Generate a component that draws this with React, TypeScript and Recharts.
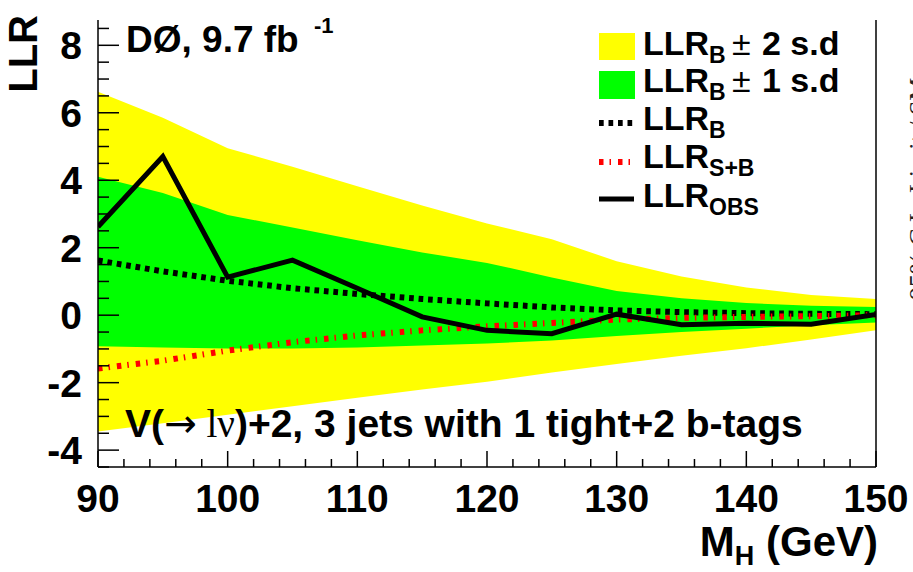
import React from "react"
import { ComposedChart, Area, Line, XAxis, YAxis } from "recharts"

// Higgs mass points and the LLR curves
const massPoints = [90, 95, 100, 105, 110, 115, 120, 125, 130, 135, 140, 145, 150]
const llrObs = [2.62, 4.7, 1.13, 1.63, 0.8, -0.05, -0.45, -0.55, 0.03, -0.28, -0.24, -0.27, 0.02]
const llrB = [1.62, 1.3, 1.02, 0.8, 0.63, 0.48, 0.35, 0.23, 0.14, 0.09, 0.06, 0.04, 0.03]
const llrSB = [-1.58, -1.35, -1.05, -0.8, -0.6, -0.45, -0.33, -0.23, -0.13, -0.08, -0.05, -0.03, 0.0]
const plus2sd = [6.62, 5.85, 4.95, 4.4, 3.82, 3.25, 2.72, 2.25, 1.6, 1.15, 0.82, 0.6, 0.48]
const plus1sd = [4.1, 3.62, 2.97, 2.6, 2.22, 1.86, 1.55, 1.12, 0.72, 0.5, 0.36, 0.28, 0.24]
const minus1sd = [-0.92, -0.96, -0.99, -0.99, -0.96, -0.9, -0.84, -0.75, -0.62, -0.5, -0.4, -0.3, -0.22]
const minus2sd = [-3.45, -3.2, -2.95, -2.7, -2.45, -2.2, -1.97, -1.7, -1.45, -1.2, -0.98, -0.72, -0.45]

const xMajorTicks = [90, 100, 110, 120, 130, 140, 150]
const yMajorTicks = [-4, -2, 0, 2, 4, 6, 8]

const rows = massPoints.map((m, i) => ({
  mh: m,
  obs: llrObs[i],
  b: llrB[i],
  sb: llrSB[i],
  band2: [minus2sd[i], plus2sd[i]],
  band1: [minus1sd[i], plus1sd[i]],
}))

// minor ticks: every 2 GeV on x, every 0.5 on y
const xTicks: number[] = []
for (let v = 90; v <= 150; v += 2) xTicks.push(v)
const yTicks: number[] = []
for (let v = -4.5; v <= 8.5; v += 0.5) yTicks.push(v)

const W = 913
const H = 572
const LEFT = 98
const RIGHT = 876
const TOP = 20
const BOTTOM = 467
const FONT = "'Liberation Sans', Arial, Helvetica, sans-serif"
const SERIF = "'Liberation Serif', 'Times New Roman', serif"

const DASH_B = "4.7 4.8"
const DASH_SB = "4.5 6 1.5 7"

function XTick(props: any) {
  const { x, payload } = props
  const v = payload.value
  const major = xMajorTicks.includes(v)
  return (
    <g>
      <line x1={x} x2={x} y1={BOTTOM} y2={BOTTOM - (major ? 16 : 8)} stroke="#000" strokeWidth={1.5} />
      {major && (
        <text x={x} y={BOTTOM + 45} textAnchor="middle" fontFamily={FONT} fontWeight="bold" fontSize={39} fill="#000">
          {v}
        </text>
      )}
    </g>
  )
}

function YTick(props: any) {
  const { y, payload } = props
  const v = payload.value
  const major = yMajorTicks.includes(v)
  return (
    <g>
      <line x1={LEFT} x2={LEFT + (major ? 21 : 11)} y1={y} y2={y} stroke="#000" strokeWidth={1.5} />
      {major && (
        <text x={LEFT - 16} y={y + 14} textAnchor="end" fontFamily={FONT} fontWeight="bold" fontSize={39} fill="#000">
          {v}
        </text>
      )}
    </g>
  )
}

function LegendLabel({ sub }: { sub: string }) {
  return (
    <>
      LLR
      <tspan dy={8} fontSize={23}>{sub}</tspan>
    </>
  )
}

function Overlay() {
  const tx = 643
  return (
    <svg width={W} height={H} style={{ position: "absolute", left: 0, top: 0, pointerEvents: "none" }}>
      {/* right frame edge */}
      <line x1={RIGHT} x2={RIGHT} y1={TOP} y2={BOTTOM} stroke="#000" strokeWidth={1.5} />

      {/* axis titles */}
      <text transform={`translate(37,15) rotate(-90)`} textAnchor="end" fontFamily={FONT} fontWeight="bold" fontSize={40} fill="#000">
        LLR
      </text>
      <text x={878} y={556} textAnchor="end" fontFamily={FONT} fontWeight="bold" fontSize={42} fill="#000">
        M<tspan dy={9} fontSize={27}>H</tspan>
        <tspan dy={-9}> (GeV)</tspan>
      </text>

      {/* experiment label */}
      <text x={126} y={52} fontFamily={FONT} fontWeight="bold" fontSize={37} fill="#000">
        DØ, 9.7 fb
        <tspan x={314} y={33} fontSize={22}>-1</tspan>
      </text>

      {/* channel label */}
      <text x={125} y={437} fontFamily={FONT} fontWeight="bold" fontSize={39} fill="#000">
        V(
        <tspan fontFamily="'DejaVu Sans', sans-serif" fontWeight="normal">→</tspan>
        <tspan fontFamily={SERIF} fontWeight="normal"> lν</tspan>
        )+2, 3 jets with 1 tight+2 b-tags
      </text>

      {/* legend */}
      <rect x={599} y={33} width={36} height={27} fill="#ffff00" />
      <rect x={599} y={71} width={36} height={28} fill="#00ff00" />
      <line x1={599} x2={634} y1={123} y2={123} stroke="#000" strokeWidth={6} strokeDasharray={DASH_B} />
      <line x1={599} x2={634} y1={162} y2={162} stroke="#ff0000" strokeWidth={6} strokeDasharray={DASH_SB} />
      <line x1={599} x2={634} y1={199} y2={199} stroke="#000" strokeWidth={5} />
      <g fontFamily={FONT} fontWeight="bold" fontSize={34} fill="#000">
        <text x={tx} y={55}>
          <LegendLabel sub="B" />
          <tspan x={732} y={55} fontWeight="normal">±</tspan>
          <tspan x={762} y={55}>2 s.d</tspan>
        </text>
        <text x={tx} y={92}>
          <LegendLabel sub="B" />
          <tspan x={732} y={92} fontWeight="normal">±</tspan>
          <tspan x={762} y={92}>1 s.d</tspan>
        </text>
        <text x={tx} y={130}>
          <LegendLabel sub="B" />
        </text>
        <text x={tx} y={168}>
          <LegendLabel sub="S+B" />
        </text>
        <text x={tx} y={207}>
          <LegendLabel sub="OBS" />
        </text>
      </g>

      {/* side label, cut by the picture's right edge as in the original */}
      <text transform={`translate(927,300) rotate(-90)`} fontFamily={SERIF} fontSize={26} fill="#222">
        95% C.L. Limit / SM
      </text>
    </svg>
  )
}

export default function App() {
  return (
    <div style={{ position: "absolute", left: 0, top: 0, width: W, height: H, background: "#fff" }}>
      <ComposedChart
        width={W}
        height={H}
        data={rows}
        margin={{ top: TOP, right: W - RIGHT, bottom: 0, left: 0 }}
      >
        <Area
          type="linear"
          dataKey="band2"
          fill="#ffff00"
          fillOpacity={1}
          stroke="none"
          dot={false}
          activeDot={false}
          isAnimationActive={false}
        />
        <Area
          type="linear"
          dataKey="band1"
          fill="#00ff00"
          fillOpacity={1}
          stroke="none"
          dot={false}
          activeDot={false}
          isAnimationActive={false}
        />
        <Line
          type="linear"
          dataKey="b"
          stroke="#000"
          strokeWidth={6}
          strokeDasharray={DASH_B}
          dot={false}
          activeDot={false}
          isAnimationActive={false}
        />
        <Line
          type="linear"
          dataKey="sb"
          stroke="#ff0000"
          strokeWidth={6}
          strokeDasharray={DASH_SB}
          dot={false}
          activeDot={false}
          isAnimationActive={false}
        />
        <Line
          type="linear"
          dataKey="obs"
          stroke="#000"
          strokeWidth={5}
          dot={false}
          activeDot={false}
          isAnimationActive={false}
        />
        <XAxis
          dataKey="mh"
          type="number"
          domain={[90, 150]}
          ticks={xTicks}
          interval={0}
          height={H - BOTTOM}
          tickSize={0}
          tickMargin={0}
          tickLine={false}
          axisLine={{ stroke: "#000", strokeWidth: 1.5 }}
          tick={(p: any) => <XTick {...p} />}
          allowDataOverflow
        />
        <YAxis
          type="number"
          domain={[-4.5, 8.75]}
          ticks={yTicks}
          interval={0}
          width={LEFT}
          tickSize={0}
          tickMargin={0}
          tickLine={false}
          axisLine={{ stroke: "#000", strokeWidth: 1.5 }}
          tick={(p: any) => <YTick {...p} />}
          allowDataOverflow
        />
      </ComposedChart>
      <Overlay />
    </div>
  )
}
